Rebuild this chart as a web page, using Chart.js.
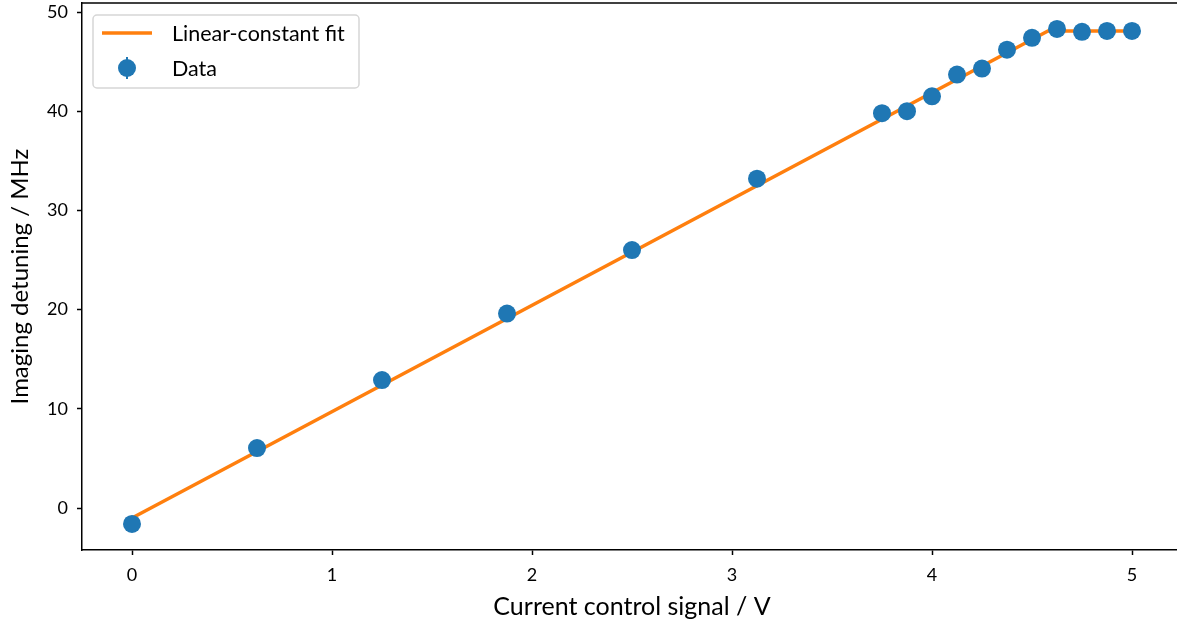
<!DOCTYPE html>
<html>
<head>
<meta charset="utf-8">
<title>Imaging detuning vs control signal</title>
<script src="https://cdn.jsdelivr.net/npm/chart.js@4.4.1/dist/chart.umd.min.js"></script>
<style>
  html, body { margin: 0; padding: 0; background: #fff; overflow: hidden; }
  #wrap { position: relative; width: 1200px; height: 634px; margin-top: -6px; }
</style>
</head>
<body>
<div id="wrap"><canvas id="detuningChart" width="1200" height="634"></canvas></div>
<script>
// measured points
const signalV = [0, 0.625, 1.25, 1.875, 2.5, 3.125, 3.75, 3.875, 4.0, 4.125, 4.25, 4.375, 4.5, 4.625, 4.75, 4.875, 5.0];
const detuningMHz = [-1.6, 6.05, 12.9, 19.6, 26.0, 33.2, 39.8, 40.0, 41.5, 43.7, 44.3, 46.2, 47.4, 48.3, 48.0, 48.1, 48.1];

// linear-constant fit: rises linearly then stays flat after the kink
const fitX = [0, 4.58, 5.0];
const fitY = [-1.0, 48.1, 48.1];

const xTicks = [0, 1, 2, 3, 4, 5];
const yTicks = [0, 10, 20, 30, 40, 50];

const BLUE = '#1f77b4';
const ORANGE = '#ff7f0e';
const FONT = 'Lato, "Open Sans", sans-serif';
const SHIFT = 6; // canvas sits 6px above the page top

const toPoints = (xs, ys) => xs.map((x, i) => ({ x, y: ys[i] }));

// top spine + boxed legend, drawn after everything else
const framePlugin = {
    id: 'frame',
    afterDraw(chart) {
        const { ctx, chartArea } = chart;
        ctx.save();
        ctx.strokeStyle = '#000';
        ctx.lineWidth = 1.5;
        ctx.beginPath();
        ctx.moveTo(chartArea.left, chartArea.top);
        ctx.lineTo(chartArea.right, chartArea.top);
        ctx.stroke();

        ctx.translate(0, SHIFT);

        // legend box
        const bx = 93, by = 15, bw = 266, bh = 73, r = 4;
        ctx.beginPath();
        ctx.moveTo(bx + r, by);
        ctx.arcTo(bx + bw, by, bx + bw, by + bh, r);
        ctx.arcTo(bx + bw, by + bh, bx, by + bh, r);
        ctx.arcTo(bx, by + bh, bx, by, r);
        ctx.arcTo(bx, by, bx + bw, by, r);
        ctx.closePath();
        ctx.fillStyle = 'rgba(255,255,255,0.8)';
        ctx.fill();
        ctx.strokeStyle = '#d6d6d6';
        ctx.lineWidth = 1.5;
        ctx.stroke();

        ctx.strokeStyle = ORANGE;
        ctx.lineWidth = 3.5;
        ctx.beginPath();
        ctx.moveTo(102, 33);
        ctx.lineTo(152, 33);
        ctx.stroke();

        ctx.strokeStyle = BLUE;
        ctx.lineWidth = 2;
        ctx.beginPath();
        ctx.moveTo(127, 57);
        ctx.lineTo(127, 79);
        ctx.stroke();
        ctx.fillStyle = BLUE;
        ctx.beginPath();
        ctx.arc(127, 68, 9, 0, Math.PI * 2);
        ctx.fill();

        ctx.fillStyle = '#000';
        ctx.font = '21.5px ' + FONT;
        ctx.textBaseline = 'middle';
        ctx.textAlign = 'left';
        ctx.fillText('Linear-constant fit', 172, 34);
        ctx.fillText('Data', 172, 69);
        ctx.restore();
    }
};

new Chart(document.getElementById('detuningChart'), {
    type: 'scatter',
    data: {
        datasets: [{
            label: 'Data',
            data: toPoints(signalV, detuningMHz),
            backgroundColor: BLUE,
            borderColor: BLUE,
            pointRadius: 9,
            pointBorderWidth: 0,
            pointHoverRadius: 9,
            order: 0
        }, {
            label: 'Linear-constant fit',
            data: toPoints(fitX, fitY),
            showLine: true,
            borderColor: ORANGE,
            borderWidth: 3.5,
            pointRadius: 0,
            tension: 0,
            order: 1
        }]
    },
    plugins: [framePlugin],
    options: {
        responsive: false,
        animation: false,
        layout: { padding: { left: 0, top: 3, right: 18, bottom: 0 } },
        scales: {
            x: {
                type: 'linear',
                min: -0.25,
                max: 5.25,
                afterFit: (scale) => {
                    scale.height = 78;
                    scale.paddingLeft = 0;
                    scale.paddingRight = 0;
                },
                afterBuildTicks: (scale) => { scale.ticks = xTicks.map(v => ({ value: v })); },
                grid: { display: true, drawOnChartArea: false, drawTicks: true, tickLength: 5, tickWidth: 1.5, tickColor: '#000' },
                border: { display: true, color: '#000', width: 1.5 },
                ticks: { color: '#000', font: { family: FONT, size: 18 }, padding: 9 },
                title: { display: true, text: 'Current control signal / V', color: '#000', font: { family: FONT, size: 25 }, padding: { top: 0, bottom: 6 } }
            },
            y: {
                type: 'linear',
                min: -4.23,
                max: 50.91,
                afterFit: (scale) => {
                    scale.width = 82;
                    scale.paddingTop = 0;
                    scale.paddingBottom = 0;
                },
                afterBuildTicks: (scale) => { scale.ticks = yTicks.map(v => ({ value: v })); },
                grid: { display: true, drawOnChartArea: false, drawTicks: true, tickLength: 5, tickWidth: 1.5, tickColor: '#000' },
                border: { display: true, color: '#000', width: 1.5 },
                ticks: { color: '#000', font: { family: FONT, size: 18 }, padding: 9 },
                title: { display: true, text: 'Imaging detuning / MHz', color: '#000', font: { family: FONT, size: 24 }, padding: { top: 6, bottom: 4 } }
            }
        },
        plugins: {
            legend: { display: false },
            tooltip: { enabled: false }
        }
    }
});
</script>
</body>
</html>
